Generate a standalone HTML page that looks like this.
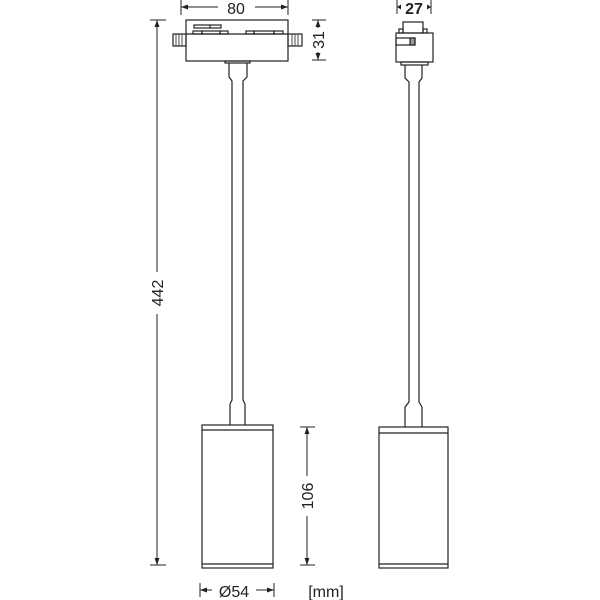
<!DOCTYPE html>
<html><head><meta charset="utf-8"><style>html,body{margin:0;padding:0;background:#fff;width:600px;height:600px;overflow:hidden}</style></head>
<body>
<svg width="600" height="600" viewBox="0 0 600 600" xmlns="http://www.w3.org/2000/svg" font-family="Liberation Sans, sans-serif">
<g fill="none" stroke="#222" stroke-width="1.2">
<rect x="186" y="20" width="102" height="41" fill="#fff"/>
<line x1="186" y1="34" x2="288" y2="34"/>
<rect x="194" y="25" width="27" height="3"/>
<line x1="210" y1="25" x2="210" y2="28"/>
<rect x="193" y="31" width="9" height="3"/>
<rect x="202" y="31" width="18" height="3"/>
<rect x="220" y="31" width="8" height="3"/>
<rect x="246" y="31" width="8" height="3"/>
<rect x="254" y="31" width="20" height="3"/>
<rect x="274" y="31" width="9" height="3"/>
<rect x="173" y="34" width="13" height="12"/>
<rect x="288" y="34" width="14" height="12"/>
<g stroke-width="0.8"><line x1="176" y1="34" x2="176" y2="46"/><line x1="179" y1="34" x2="179" y2="46"/><line x1="182" y1="34" x2="182" y2="46"/><line x1="292" y1="34" x2="292" y2="46"/><line x1="295" y1="34" x2="295" y2="46"/><line x1="298" y1="34" x2="298" y2="46"/></g>
<rect x="225" y="61" width="25" height="2"/>
<path d="M229 63 V77 L232 81 V400 L230 404 V425 M247 63 V77 L243 81 V400 L245 404 V425"/>
<rect x="202" y="425" width="71" height="143" fill="#fff"/>
<line x1="202" y1="430" x2="273" y2="430"/>
<line x1="202" y1="564" x2="273" y2="564"/>
<rect x="403" y="22" width="20" height="11"/>
<rect x="399" y="29" width="4" height="4"/><rect x="423" y="29" width="4" height="4"/>
<rect x="396" y="33" width="37" height="29"/>
<rect x="396" y="38" width="19" height="7"/>
<rect x="410" y="38" width="5" height="7" fill="#999"/>
<rect x="401" y="62" width="27" height="3"/>
<path d="M405 65 V78 L409 82 V402 L405 407 V427 M422 65 V78 L419 82 V402 L422 407 V427"/>
<rect x="379" y="427" width="69" height="141" fill="#fff"/>
<line x1="379" y1="433" x2="448" y2="433"/>
<line x1="379" y1="564" x2="448" y2="564"/>
</g>
<g stroke="#222" stroke-width="1" fill="none">
<line x1="181" y1="0" x2="181" y2="15"/><line x1="288" y1="0" x2="288" y2="15"/>
<line x1="181" y1="7" x2="218" y2="7"/><line x1="255" y1="7" x2="288" y2="7"/>
<line x1="150" y1="20" x2="166" y2="20"/><line x1="150" y1="565" x2="166" y2="565"/>
<line x1="157" y1="20" x2="157" y2="272"/><line x1="157" y1="314" x2="157" y2="565"/>
<line x1="312" y1="20" x2="326" y2="20"/><line x1="312" y1="60" x2="326" y2="60"/>
<line x1="318" y1="20" x2="318" y2="28"/><line x1="318" y1="52" x2="318" y2="60"/>
<line x1="300" y1="427" x2="315" y2="427"/><line x1="300" y1="565" x2="315" y2="565"/>
<line x1="307" y1="427" x2="307" y2="476"/><line x1="307" y1="516" x2="307" y2="565"/>
<line x1="200" y1="583" x2="200" y2="597"/><line x1="274" y1="583" x2="274" y2="597"/>
<line x1="200" y1="590" x2="212" y2="590"/><line x1="256" y1="590" x2="274" y2="590"/>
<line x1="397" y1="0" x2="397" y2="14"/><line x1="431" y1="0" x2="431" y2="14"/>
<line x1="397" y1="7" x2="401" y2="7"/><line x1="427" y1="7" x2="431" y2="7"/>
</g>
<g fill="#222" stroke="none">
<path d="M181 7 l7 -2.5 v5z M288 7 l-7 -2.5 v5z M157 20 l-2.5 7 h5z M157 565 l-2.5 -7 h5z M318 20 l-2.5 7 h5z M318 60 l-2.5 -7 h5z M307 427 l-2.5 7 h5z M307 565 l-2.5 -7 h5z M200 590 l7 -2.5 v5z M274 590 l-7 -2.5 v5z M397 7 l4 -2.5 v5z M431 7 l-4 -2.5 v5z"/>
</g>
<g fill="#222" font-size="16">
<text x="236" y="14" text-anchor="middle">80</text>
<text x="414" y="14" text-anchor="middle" font-weight="bold">27</text>
<text transform="translate(163,293) rotate(-90)" text-anchor="middle">442</text>
<text transform="translate(324,40) rotate(-90)" text-anchor="middle">31</text>
<text transform="translate(313,496) rotate(-90)" text-anchor="middle">106</text>
<text x="234" y="597" text-anchor="middle">Ø54</text>
<text x="326" y="597" text-anchor="middle">[mm]</text>
</g>
</svg>
</body></html>
